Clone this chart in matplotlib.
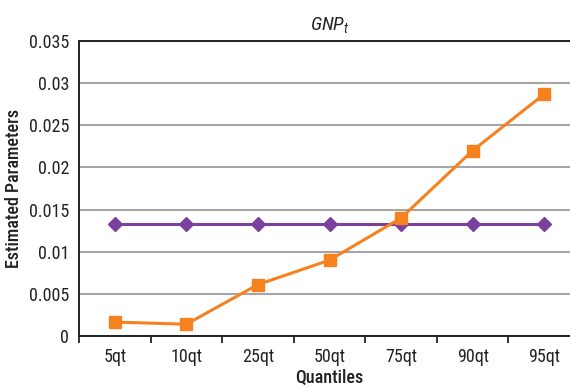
import matplotlib
matplotlib.use("Agg")
import matplotlib.pyplot as plt
from matplotlib import font_manager as fm

names = {f.name for f in fm.fontManager.ttflist}
cands = ['Liberation Sans Narrow', 'Roboto Condensed', 'Liberation Sans']
fam = [c for c in cands if c in names][:1] or ['DejaVu Sans']
plt.rcParams['font.family'] = fam + ['DejaVu Sans']
plt.rcParams['mathtext.fontset'] = 'custom'
plt.rcParams['mathtext.it'] = fam[0] + ':italic'
plt.rcParams['mathtext.rm'] = fam[0]

categories = ['5qt', '10qt', '25qt', '50qt', '75qt', '90qt', '95qt']
orange_vals = [0.00165, 0.0014, 0.0061, 0.0090, 0.0140, 0.0220, 0.0287]
purple_vals = [0.01325] * 7
yticks = [0, 0.005, 0.01, 0.015, 0.02, 0.025, 0.03, 0.035]
ytick_labels = ['0', '0.005', '0.01', '0.015', '0.02', '0.025', '0.03', '0.035']

fig = plt.figure(figsize=(5.7, 3.9), dpi=100)
ax = fig.add_axes([79/570, 54/390, 501/570, 295/390])

x = list(range(len(categories)))
ax.plot(x, purple_vals, color='#7B3F9E', lw=2.2, marker='D', ms=7, mec='#7B3F9E', mfc='#7B3F9E', zorder=3)
ax.plot(x, orange_vals, color='#F5821F', lw=2.2, marker='s', ms=8, mec='#F5821F', mfc='#F5821F', zorder=4)

ax.set_xlim(-0.5, len(categories) - 0.5)
ax.set_ylim(0, 0.035)
ax.set_yticks(yticks)
ax.set_yticklabels(ytick_labels, fontsize=13)
ax.yaxis.grid(True, color='#a6a6a6', lw=1.5)
ax.set_axisbelow(True)
ax.tick_params(axis='y', length=0, pad=7, colors='#222222')
ax.set_xticks(x)
ax.set_xticklabels(categories, fontsize=13)
ax.set_xticks([i + 0.5 for i in range(-1, len(categories))], minor=True)
ax.tick_params(axis='x', which='major', length=0, pad=9, colors='#222222')
ax.tick_params(axis='x', which='minor', length=5, width=1.3, direction='out', color='#222222')

for s in ['left', 'bottom', 'top']:
    ax.spines[s].set_color('#222222')
    ax.spines[s].set_linewidth(1.4)
ax.spines['right'].set_visible(False)

ax.set_xlabel('Quantiles', fontsize=13, fontweight='medium', labelpad=2, color='#222222')
ax.set_ylabel('Estimated Parameters', fontsize=13, fontweight='medium', labelpad=4, color='#222222')
ax.set_title(r'$GNP_t$', fontsize=14, pad=8, color='#222222')

fig.savefig('out.png', dpi=100)
